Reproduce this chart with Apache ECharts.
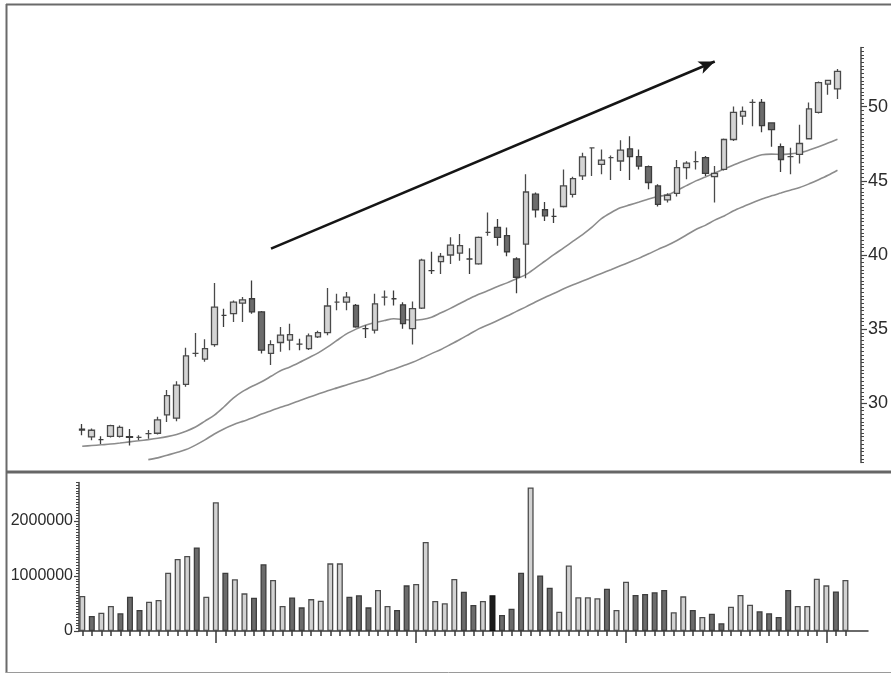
<!DOCTYPE html>
<html>
<head>
<meta charset="utf-8">
<script src="https://cdn.jsdelivr.net/npm/echarts@6/dist/echarts.min.js"></script>
<style>
  html, body { margin: 0; padding: 0; background: #fff; }
  #chart { width: 891px; height: 674px; }
</style>
</head>
<body>
<div id="chart"></div>
<script>
const categories = Array.from({ length: 81 }, (_, i) => String(i + 1));

const opens = [
  28.25, 27.73, 27.55, 27.77, 27.77, 27.75, 27.7, 27.95, 27.98, 29.22,
  29.0, 31.27, 33.36, 32.98, 33.96, 35.93, 36.04, 36.76, 37.05, 36.16,
  33.36, 34.1, 34.26, 33.99, 33.69, 34.48, 34.77, 36.82, 36.82, 36.6,
  35.03, 34.93, 37.16, 37.05, 36.64, 35.03, 36.42, 38.95, 39.55, 40.0,
  40.13, 39.73, 39.4, 41.52, 41.86, 41.3, 39.73, 40.74, 44.1, 43.05,
  42.6, 43.27, 44.09, 45.33, 47.23, 46.11, 46.56, 46.34, 47.16, 46.63,
  45.96, 44.66, 43.72, 44.16, 45.89, 46.3, 46.56, 45.28, 45.77, 47.79,
  49.36, 50.29, 50.29, 48.91, 47.3, 46.63, 46.78, 47.84, 49.62, 51.53, 51.2
];
const closes = [
  28.2, 28.18, 27.55, 28.5, 28.37, 27.7, 27.7, 27.95, 28.88, 30.52,
  31.23, 33.2, 33.36, 33.69, 36.49, 35.93, 36.82, 36.98, 36.16, 33.58,
  33.96, 34.59, 34.63, 33.99, 34.54, 34.77, 36.56, 36.82, 37.16, 35.15,
  35.03, 36.71, 37.16, 37.05, 35.37, 36.38, 39.66, 38.95, 39.9, 40.67,
  40.63, 39.73, 41.19, 41.52, 41.19, 40.22, 38.5, 44.25, 43.05, 42.64,
  42.6, 44.66, 45.15, 46.62, 47.23, 46.4, 46.56, 47.07, 46.63, 46.0,
  44.89, 43.42, 44.03, 45.89, 46.2, 46.3, 45.5, 45.5, 47.79, 49.62,
  49.69, 50.29, 48.72, 48.46, 46.44, 46.63, 47.52, 49.85, 51.63, 51.77, 52.38
];
const lows = [
  27.85, 27.5, 27.25, 27.7, 27.7, 27.16, 27.5, 27.6, 27.9, 28.73,
  28.79, 31.12, 33.13, 32.8, 33.81, 35.15, 35.48, 35.48, 36.04, 33.36,
  32.58, 33.47, 33.58, 33.58, 33.6, 34.4, 34.59, 36.27, 36.27, 35.1,
  34.41, 34.7, 36.6, 36.6, 35.03, 33.96, 36.35, 38.72, 38.72, 39.4,
  39.62, 38.72, 39.35, 41.3, 40.63, 39.92, 37.42, 38.44, 42.53, 42.3,
  42.15, 43.2, 43.88, 45.06, 45.33, 45.44, 45.06, 45.66, 45.06, 45.77,
  44.43, 43.27, 43.54, 43.94, 45.1, 45.77, 45.33, 43.54, 45.7, 47.68,
  48.79, 48.68, 48.28, 47.3, 45.6, 45.44, 46.17, 47.79, 49.55, 50.8, 50.52
];
const highs = [
  28.6, 28.3, 27.77, 28.55, 28.5, 28.26, 27.85, 28.2, 29.1, 30.89,
  31.48, 33.74, 34.74, 34.32, 38.12, 36.38, 36.94, 37.16, 38.28, 36.22,
  34.25, 35.15, 35.37, 34.36, 34.7, 34.9, 37.77, 37.38, 37.5, 36.7,
  35.26, 37.38, 37.6, 37.6, 36.82, 36.87, 39.75, 40.22, 40.13, 41.19,
  41.41, 40.45, 41.25, 42.87, 42.42, 41.86, 39.85, 45.44, 44.21, 43.58,
  43.13, 45.77, 45.28, 46.89, 47.25, 47.11, 46.71, 47.74, 48.01, 47.11,
  46.04, 44.77, 44.16, 46.4, 46.33, 47.0, 46.67, 46.0, 47.85, 50.02,
  50.02, 50.5, 50.52, 48.95, 47.52, 47.23, 48.79, 50.29, 51.7, 51.81, 52.54
];

// upper (short) moving average
const maShort = [
  27.1, 27.15, 27.2, 27.25, 27.32, 27.4, 27.47, 27.55, 27.64, 27.75,
  27.9, 28.12, 28.4, 28.8, 29.2, 29.75, 30.35, 30.8, 31.15, 31.45,
  31.82, 32.2, 32.45, 32.75, 33.07, 33.4, 33.8, 34.25, 34.68, 35.0,
  35.27, 35.45, 35.58, 35.7, 35.65, 35.6, 35.65, 35.8, 36.1, 36.4,
  36.73, 37.05, 37.35, 37.6, 37.87, 38.12, 38.4, 38.68, 39.12, 39.58,
  40.04, 40.48, 40.93, 41.38, 41.88, 42.45, 42.85, 43.18, 43.38, 43.57,
  43.77, 43.94, 44.06, 44.35, 44.68, 45.0, 45.26, 45.53, 45.8, 46.07,
  46.33, 46.56, 46.76, 46.8, 46.78, 46.82, 46.9, 47.08, 47.3, 47.55, 47.8
];
// lower (long) moving average
const maLong = [
  null, null, null, null, null, null, null, 26.2, 26.32, 26.5,
  26.68, 26.88, 27.18, 27.53, 27.93, 28.27, 28.55, 28.78, 29.0, 29.27,
  29.5, 29.73, 29.94, 30.17, 30.4, 30.62, 30.84, 31.04, 31.24, 31.44,
  31.62, 31.84, 32.08, 32.3, 32.53, 32.76, 33.05, 33.35, 33.63, 33.96,
  34.3, 34.66, 35.02, 35.3, 35.58, 35.88, 36.2, 36.5, 36.83, 37.14,
  37.42, 37.72, 37.99, 38.24, 38.5, 38.76, 39.01, 39.27, 39.53, 39.79,
  40.08, 40.38, 40.66, 40.98, 41.35, 41.72, 42.0, 42.35, 42.63, 42.98,
  43.26, 43.52, 43.78, 43.99, 44.18, 44.37, 44.55, 44.8, 45.08, 45.38, 45.72
];

const volumes = [
  636000, 273000, 333000, 455000, 322000, 624000, 382000, 533000, 564000, 1060000,
  1310000, 1364000, 1520000, 624000, 2340000, 1060000, 940000, 685000, 605000, 1213000,
  927000, 455000, 610000, 430000, 580000, 550000, 1230000, 1230000, 624000, 650000,
  430000, 745000, 455000, 382000, 830000, 855000, 1620000, 545000, 504000, 945000,
  715000, 473000, 545000, 650000, 290000, 405000, 1060000, 2610000, 1010000, 787000,
  350000, 1190000, 613000, 613000, 595000, 770000, 382000, 896000, 655000, 673000,
  704000, 745000, 340000, 630000, 382000, 255000, 315000, 140000, 440000, 655000,
  478000, 358000, 322000, 255000, 745000, 455000, 455000, 950000, 830000, 720000, 927000
];
// 1 = up day (light), 0 = down day (dark), 2 = black bar
const volumeDirection = [
  1, 0, 1, 1, 0, 0, 0, 1, 1, 1,
  1, 1, 0, 1, 1, 0, 1, 1, 0, 0,
  1, 1, 0, 0, 1, 1, 1, 1, 0, 0,
  0, 1, 1, 0, 0, 1, 1, 1, 1, 1,
  0, 0, 1, 2, 0, 0, 0, 1, 0, 0,
  1, 1, 1, 1, 1, 0, 1, 1, 0, 0,
  0, 0, 1, 1, 0, 1, 0, 0, 1, 1,
  1, 0, 0, 0, 0, 1, 1, 1, 1, 0, 1
];

const priceTicks = [30, 35, 40, 45, 50];
const volumeTicks = [0, 1000000, 2000000];
const monthStartIndex = [14, 35, 57, 78];
const trendStart = [20, 40.43];
const trendEnd = [67, 53.05];

const candleData = categories.map((_, i) => [opens[i], closes[i], lows[i], highs[i]]);
const volFill = { 1: '#d2d2d2', 0: '#6b6b6b', 2: '#1c1c1c' };
const volBorder = { 1: '#4d4d4d', 0: '#3d3d3d', 2: '#111111' };
const volumeData = volumes.map((v, i) => ({
  value: v,
  itemStyle: { color: volFill[volumeDirection[i]], borderColor: volBorder[volumeDirection[i]] }
}));

const FONT = "'Liberation Sans', Arial, sans-serif";
const chart = echarts.init(document.getElementById('chart'), null, { renderer: 'canvas' });

const gridLeft = 77.5, gridWidth = 772.7;

chart.setOption({
  animation: false,
  backgroundColor: '#ffffff',
  grid: [
    { left: gridLeft, width: gridWidth, top: 47.4, height: 415.2 },
    { left: gridLeft, width: gridWidth, top: 482.5, height: 148.5 },
    { left: 79, right: 23, top: 630, height: 1 }
  ],
  xAxis: [
    { type: 'category', gridIndex: 0, data: categories, show: false, boundaryGap: true },
    {
      type: 'category', gridIndex: 1, position: 'bottom', data: categories, boundaryGap: true,
      axisLine: { show: false },
      axisTick: { show: true, interval: 0, alignWithLabel: true, length: 5,
        lineStyle: { color: '#3a3a3a', width: 1.5 } },
      axisLabel: { show: false }
    },
    {
      type: 'category', gridIndex: 1, position: 'bottom', offset: 0, data: categories, boundaryGap: true,
      axisLine: { show: false },
      axisTick: { show: true, alignWithLabel: true, length: 12,
        interval: (idx) => monthStartIndex.indexOf(idx) >= 0,
        lineStyle: { color: '#3a3a3a', width: 1.5 } },
      axisLabel: { show: false }
    },
    {
      type: 'value', gridIndex: 2, position: 'bottom', min: 0, max: 1,
      axisLine: { show: true, lineStyle: { color: '#3a3a3a', width: 1.5 } },
      axisTick: { show: false }, axisLabel: { show: false }, splitLine: { show: false }
    }
  ],
  yAxis: [
    {
      type: 'value', gridIndex: 0, position: 'right', offset: 18.8,
      min: 26, max: 54, interval: 0.25,
      axisLine: { show: true, lineStyle: { color: '#444', width: 1.5 } },
      axisTick: { show: true, length: 3, lineStyle: { color: '#444', width: 1 } },
      axisLabel: { show: false },
      splitLine: { show: false }
    },
    {
      type: 'value', gridIndex: 0, position: 'right', offset: 18.8,
      min: 26, max: 54,
      axisLine: { show: false },
      axisTick: { show: true, length: 6, customValues: priceTicks, lineStyle: { color: '#444', width: 1.2 } },
      axisLabel: { show: true, customValues: priceTicks, margin: 7, color: '#2b2b2b',
        fontSize: 18, fontFamily: FONT, formatter: (v) => String(v) },
      splitLine: { show: false }
    },
    {
      type: 'value', gridIndex: 1, position: 'left', offset: -1.5,
      min: 0, max: 2700000, interval: 50000,
      axisLine: { show: true, lineStyle: { color: '#444', width: 1.5 } },
      axisTick: { show: true, length: 3, lineStyle: { color: '#444', width: 1 } },
      axisLabel: { show: false },
      splitLine: { show: false }
    },
    {
      type: 'value', gridIndex: 1, position: 'left', offset: -1.5,
      min: 0, max: 2700000,
      axisLine: { show: false },
      axisTick: { show: true, length: 5, customValues: volumeTicks, lineStyle: { color: '#444', width: 1.2 } },
      axisLabel: { show: true, customValues: volumeTicks, margin: 6, color: '#2b2b2b',
        fontSize: 16, fontFamily: FONT, formatter: (v) => String(v) },
      splitLine: { show: false }
    },
    { type: 'value', gridIndex: 2, show: false }
  ],
  series: [
    {
      name: 'MA long', type: 'line', xAxisIndex: 0, yAxisIndex: 0,
      data: maLong, showSymbol: false, smooth: 0.3, silent: true,
      lineStyle: { color: '#8c8c8c', width: 1.6 }, z: 2
    },
    {
      name: 'MA short', type: 'line', xAxisIndex: 0, yAxisIndex: 0,
      data: maShort, showSymbol: false, smooth: 0.3, silent: true,
      lineStyle: { color: '#8c8c8c', width: 1.6 }, z: 2
    },
    {
      name: 'Price', type: 'candlestick', xAxisIndex: 0, yAxisIndex: 0,
      data: candleData, barWidth: 6, z: 3,
      itemStyle: {
        color: '#d4d4d4', color0: '#6c6c6c',
        borderColor: '#4a4a4a', borderColor0: '#3c3c3c', borderWidth: 1.3
      },
      markLine: {
        silent: true,
        symbol: ['none', 'arrow'],
        symbolSize: [10, 16],
        label: { show: false },
        lineStyle: { color: '#151515', width: 2.6, type: 'solid' },
        data: [[{ coord: trendStart }, { coord: trendEnd }]]
      }
    },
    {
      name: 'Volume', type: 'bar', xAxisIndex: 1, yAxisIndex: 2,
      data: volumeData, barWidth: 6,
      itemStyle: { borderWidth: 1.3 }
    }
  ],
  graphic: [
    { type: 'line', shape: { x1: 6, y1: 4.5, x2: 891, y2: 4.5 }, style: { stroke: '#6a6a6a', lineWidth: 2 }, silent: true },
    { type: 'line', shape: { x1: 6.5, y1: 4, x2: 6.5, y2: 673 }, style: { stroke: '#6a6a6a', lineWidth: 2 }, silent: true },
    { type: 'rect', shape: { x: 6, y: 470.5, width: 885, height: 3 }, style: { fill: '#666666' }, silent: true },
    { type: 'line', shape: { x1: 6, y1: 672.5, x2: 891, y2: 672.5 }, style: { stroke: '#9a9a9a', lineWidth: 1 }, silent: true }
  ]
});
</script>
</body>
</html>
